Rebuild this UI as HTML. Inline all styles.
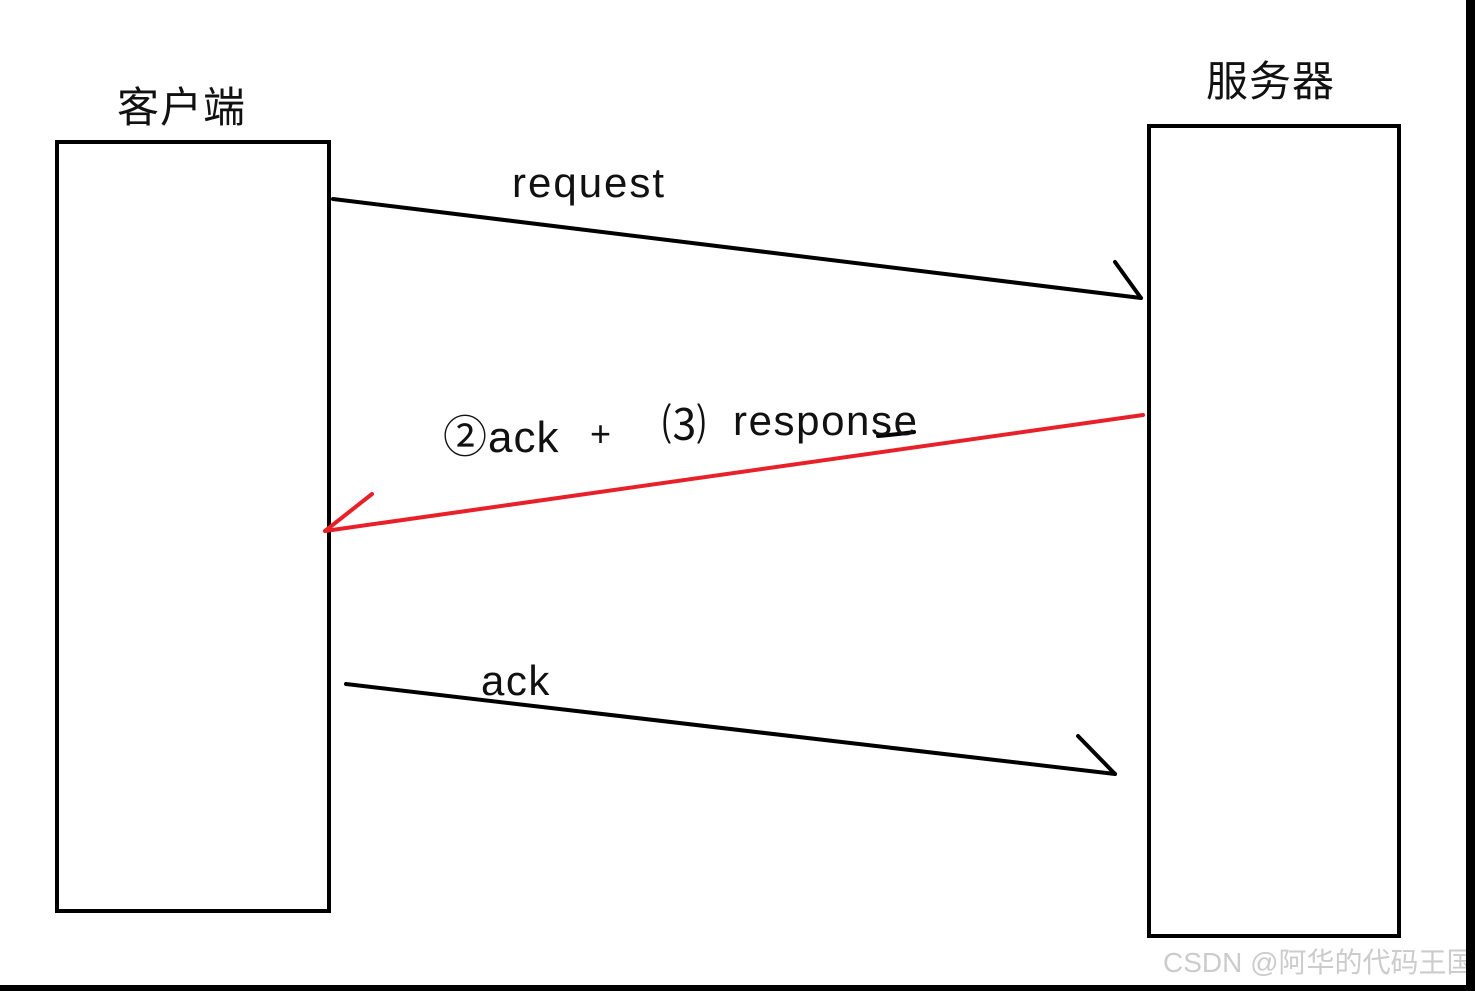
<!DOCTYPE html>
<html><head><meta charset="utf-8"><style>
html,body{margin:0;padding:0;background:#000;}
#c{position:relative;width:1466px;height:985px;background:#fff;overflow:hidden;}
.t{position:absolute;font-family:"Liberation Sans","Noto Sans CJK SC",sans-serif;color:#111;white-space:nowrap;line-height:1;}
</style></head><body>
<div style="width:1475px;height:991px;background:#000;position:relative;">
<div id="c">
<svg width="1466" height="985" style="position:absolute;left:0;top:0">
<rect x="57" y="142" width="272" height="769" fill="none" stroke="#000" stroke-width="4"/>
<rect x="1149" y="126" width="250" height="810" fill="none" stroke="#000" stroke-width="4"/>
<g stroke="#000" stroke-width="4" fill="none" stroke-linecap="round">
<line x1="333" y1="199" x2="1141" y2="298"/>
<line x1="1115" y1="262" x2="1141" y2="298"/>
<line x1="346" y1="684" x2="1115" y2="774"/>
<line x1="1078" y1="736" x2="1115" y2="774"/>
<path d="M878 436 Q900 434 914 432"/>
</g>
<g stroke="#e8202a" stroke-width="4" fill="none" stroke-linecap="round">
<line x1="1143" y1="415" x2="325" y2="531"/>
<line x1="372" y1="494" x2="325" y2="531"/>
</g>
</svg>
<div class="t" style="left:117px;top:87px;font-size:42px;letter-spacing:1px;">客户端</div>
<div class="t" style="left:1206px;top:61px;font-size:42px;letter-spacing:1px;">服务器</div>
<div class="t" style="left:512px;top:162px;font-size:42px;letter-spacing:2px;">request</div>
<div class="t" style="left:443px;top:416px;font-size:44px;letter-spacing:1px;">②ack</div>
<div class="t" style="left:590px;top:416px;font-size:36px;">+</div>
<div class="t" style="left:662px;top:404px;font-size:44px;">⑶</div>
<div class="t" style="left:733px;top:400px;font-size:42px;letter-spacing:1.6px;">response</div>
<div class="t" style="left:481px;top:660px;font-size:42px;letter-spacing:1.5px;">ack</div>
<div class="t" style="left:1163px;top:949px;font-size:28px;color:#ccc;">CSDN @阿华的代码王国</div>
</div></div>
</body></html>
